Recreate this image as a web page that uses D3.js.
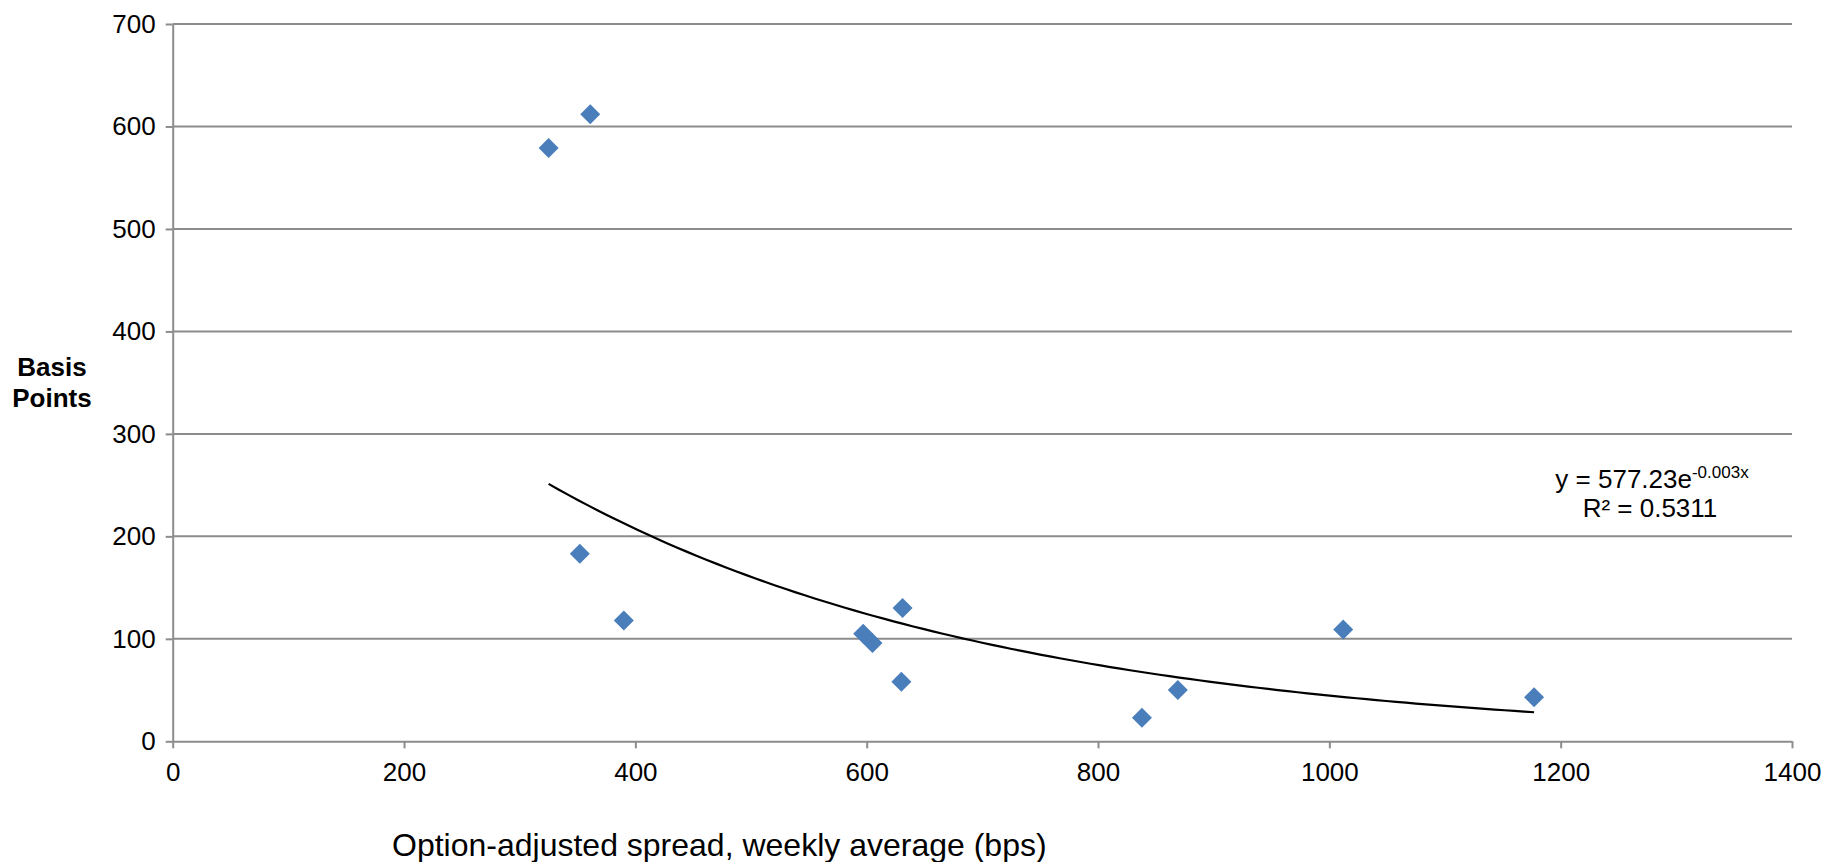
<!DOCTYPE html>
<html>
<head>
<meta charset="utf-8">
<script src="https://cdn.jsdelivr.net/npm/d3@7"></script>
<style>
  html, body { margin: 0; padding: 0; background: #fff; }
  svg { display: block; font-family: "Liberation Sans", Arial, sans-serif; }
</style>
</head>
<body>
<svg id="chart" width="1827" height="862"></svg>
<script>
// Data
const spreadX = [325, 361, 352, 390, 597, 605, 631, 630, 838, 869, 1012, 1177];
const basisY  = [579, 612, 183, 118, 105, 96, 130, 58, 23, 50, 109, 43];
const xTicks = [0, 200, 400, 600, 800, 1000, 1200, 1400];
const yTicks = [0, 100, 200, 300, 400, 500, 600, 700];
const trendA = 577.23;
const trendK = -0.00256;
const eqMain = "y = 577.23e";
const eqSup = "-0.003x";
const r2Text = "R\u00b2 = 0.5311";
const xTitle = "Option-adjusted spread, weekly average (bps)";
const yTitle = ["Basis", "Points"];

(function () {
const svg = d3.select("#chart");
const plotL = 172.7, plotR = 1792, plotT = 24, plotB = 741.3;
const x = d3.scaleLinear().domain([0, 1400]).range([plotL, plotR]);
const y = d3.scaleLinear().domain([0, 700]).range([plotB, plotT]);
const grey = "#8c8c8c";
const fmt = d3.format("d");

// gridlines
svg.append("g").selectAll("line").data(yTicks.filter(d => d > 0)).join("line")
  .attr("x1", plotL).attr("x2", plotR)
  .attr("y1", d => y(d)).attr("y2", d => y(d))
  .attr("stroke", grey).attr("stroke-width", 2);

// y axis
const gy = svg.append("g").attr("transform", `translate(${plotL},0)`)
  .call(d3.axisLeft(y).tickValues(yTicks).tickFormat(fmt).tickSize(7).tickPadding(10).tickSizeOuter(0));
gy.select(".domain").attr("stroke", grey).attr("stroke-width", 2);
gy.selectAll(".tick line").attr("stroke", grey).attr("stroke-width", 2);
gy.selectAll(".tick text").attr("font-size", 26).attr("fill", "#000")
  .attr("font-family", "Liberation Sans, Arial, sans-serif");

// x axis
const gx = svg.append("g").attr("transform", `translate(0,${plotB})`)
  .call(d3.axisBottom(x).tickValues(xTicks).tickFormat(fmt).tickSize(7).tickPadding(14).tickSizeOuter(0));
gx.select(".domain").attr("stroke", grey).attr("stroke-width", 2);
gx.selectAll(".tick line").attr("stroke", grey).attr("stroke-width", 2);
gx.selectAll(".tick text").attr("font-size", 26).attr("fill", "#000")
  .attr("font-family", "Liberation Sans, Arial, sans-serif");

// trendline
const xMin = d3.min(spreadX), xMax = d3.max(spreadX);
const trendPts = d3.range(0, 101).map(i => {
  const xv = xMin + (xMax - xMin) * i / 100;
  return [xv, trendA * Math.exp(trendK * xv)];
});
svg.append("path")
  .datum(trendPts)
  .attr("d", d3.line().x(d => x(d[0])).y(d => y(d[1])))
  .attr("fill", "none").attr("stroke", "#000").attr("stroke-width", 2.2);

// points
const pts = spreadX.map((v, i) => ({x: v, y: basisY[i]}));
svg.append("g").selectAll("path").data(pts).join("path")
  .attr("d", d3.symbol().type(d3.symbolSquare).size(200))
  .attr("transform", d => `translate(${x(d.x)},${y(d.y)}) rotate(45)`)
  .attr("fill", "#4a7ebb");

// equation
const eq = svg.append("text").attr("x", 1652).attr("y", 488)
  .attr("text-anchor", "middle").attr("font-size", 26).attr("fill", "#000");
eq.append("tspan").text(eqMain);
eq.append("tspan").attr("font-size", 17).attr("dy", -10).text(eqSup);
svg.append("text").attr("x", 1650).attr("y", 517)
  .attr("text-anchor", "middle").attr("font-size", 26).attr("fill", "#000")
  .text(r2Text);

// axis titles
svg.append("text").attr("x", 392).attr("y", 856)
  .attr("font-size", 32).attr("fill", "#000").text(xTitle);
const yt = svg.append("text").attr("text-anchor", "middle")
  .attr("font-size", 26).attr("font-weight", "bold").attr("fill", "#000");
yTitle.forEach((t, i) => {
  yt.append("tspan").attr("x", 52).attr("y", 376 + i * 31).text(t);
});
})();
</script>
</body>
</html>
